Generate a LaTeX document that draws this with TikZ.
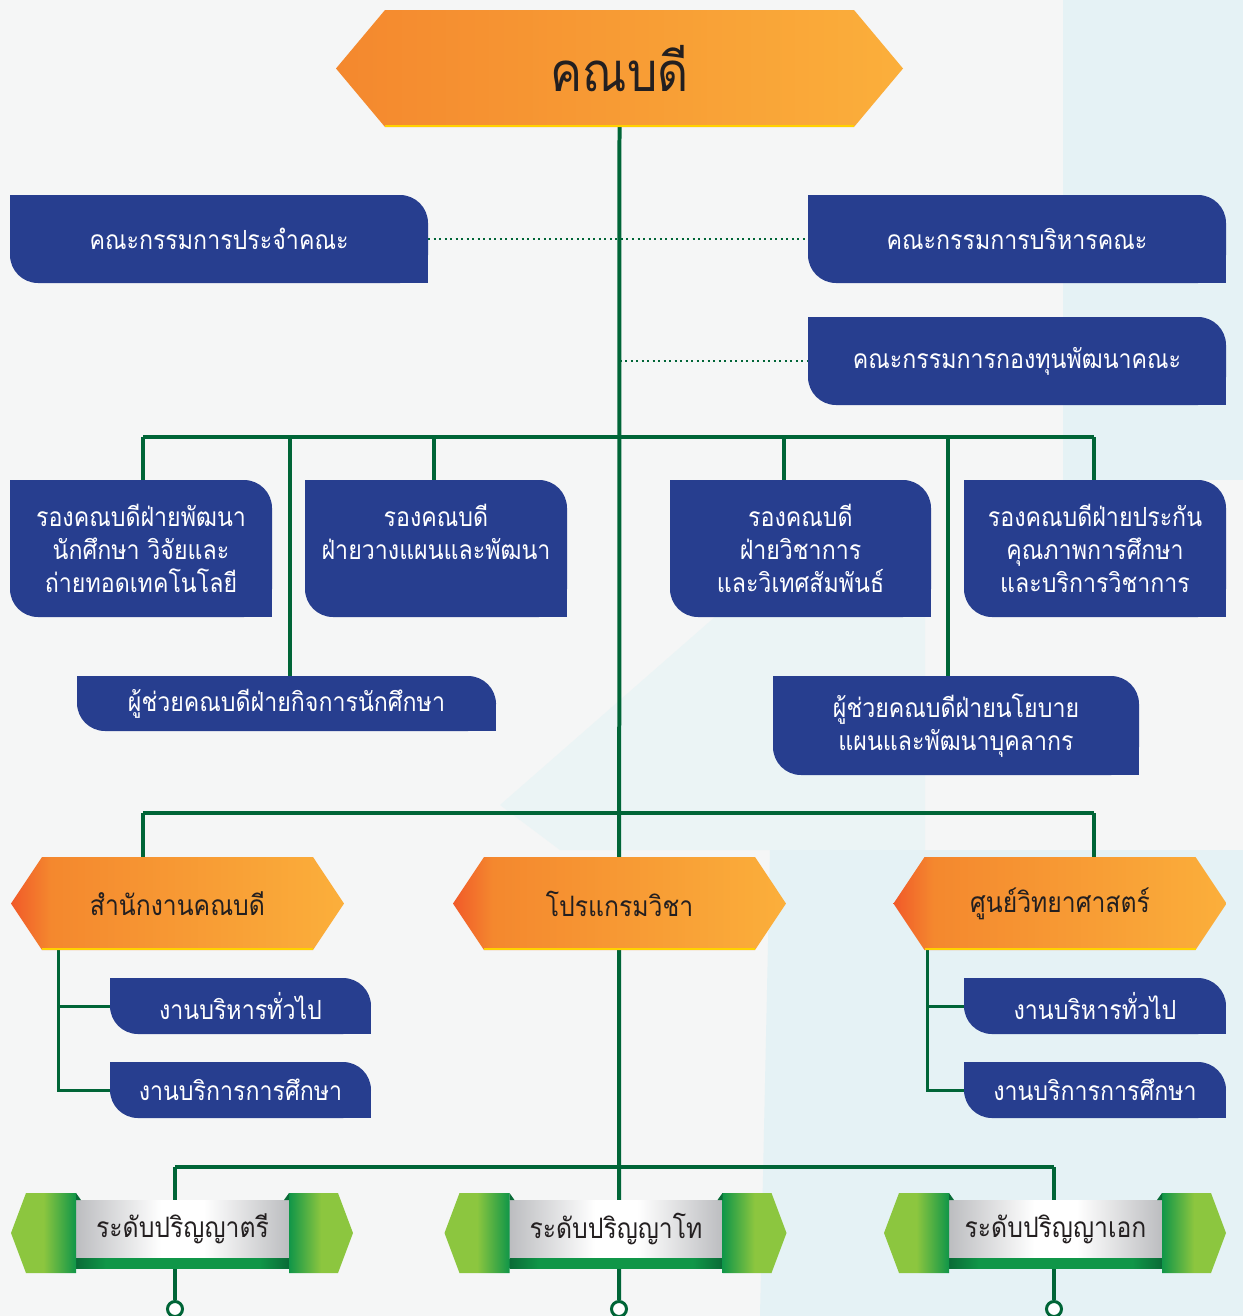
\documentclass[tikz,border=0pt]{standalone}
\usepackage{fontspec}
\newfontfamily\thai[Script=Thai, FakeStretch=0.88]{Loma}
\usetikzlibrary{positioning}
\definecolor{boxblue}{RGB}{39,62,143}
\definecolor{linegreen}{RGB}{0,101,55}
\definecolor{titlegray}{RGB}{35,31,32}
\definecolor{orR}{RGB}{241,90,41}
\definecolor{orA}{RGB}{244,136,46}
\definecolor{orB}{RGB}{251,175,59}
\definecolor{hexline}{RGB}{255,210,0}
\definecolor{wingL}{RGB}{140,198,63}
\definecolor{wingD}{RGB}{16,150,72}
\definecolor{stripD}{RGB}{10,107,55}
\definecolor{bandG}{RGB}{188,189,192}
\definecolor{bggray}{RGB}{245,246,246}
\definecolor{bgcyan}{RGB}{229,242,245}
\pgfdeclarehorizontalshading{tophexshade}{100bp}{color(0bp)=(orA); color(25bp)=(orA); color(75bp)=(orB); color(100bp)=(orB)}
\pgfdeclarehorizontalshading{hexshade}{100bp}{color(0bp)=(orR); color(25bp)=(orR); color(31bp)=(orA); color(75bp)=(orB); color(100bp)=(orB)}
\pgfdeclarehorizontalshading{leftwing}{100bp}{color(0bp)=(wingL); color(50bp)=(wingL); color(75bp)=(wingD); color(100bp)=(wingD)}
\pgfdeclarehorizontalshading{rightwing}{100bp}{color(0bp)=(wingD); color(25bp)=(wingD); color(50bp)=(wingL); color(100bp)=(wingL)}
\pgfdeclarehorizontalshading{bandshade}{100bp}{color(0bp)=(bandG); color(25bp)=(bandG); color(45bp)=(white); color(55bp)=(white); color(75bp)=(bandG); color(100bp)=(bandG)}
\pgfdeclarehorizontalshading{stripshade}{100bp}{color(0bp)=(stripD); color(25bp)=(stripD); color(32bp)=(wingD); color(68bp)=(wingD); color(75bp)=(stripD); color(100bp)=(stripD)}
\pgfdeclarelayer{bg}
\pgfdeclarelayer{lines}
\pgfsetlayers{bg,lines,main}
\newcommand\boxfont{\thai\fontsize{15}{18.7}\selectfont}
\newcommand\hexfont{\thai\fontsize{16}{19}\selectfont}
\tikzset{
  boxsize/.style 2 args={minimum width=#1*0.02cm, minimum height=#2*0.02cm},
  bluebox/.style={text=white, align=center, inner sep=0pt, outer sep=0pt, font=\boxfont,
    path picture={
      \fill[boxblue, rounded corners=0.56cm] (path picture bounding box.south west) rectangle (path picture bounding box.north east);
      \fill[boxblue] (path picture bounding box.north west) rectangle ++(0.6cm,-0.6cm);
      \fill[boxblue] (path picture bounding box.south east) rectangle ++(-0.6cm,0.6cm);
    }},
  hex cut/.store in=\hexcut, hex cut=0.62cm,
  hex shade/.store in=\hexshade, hex shade=hexshade,
  hexbox/.style={boxsize={333}{93}, inner sep=0pt, outer sep=0pt, text=titlegray, font=\hexfont,
    path picture={
      \shade[shading=\hexshade] (path picture bounding box.west)
        -- ([xshift=\hexcut]path picture bounding box.north west)
        -- ([xshift=-\hexcut]path picture bounding box.north east)
        -- (path picture bounding box.east)
        -- ([xshift=-\hexcut]path picture bounding box.south east)
        -- ([xshift=\hexcut]path picture bounding box.south west) -- cycle;
      \draw[hexline, line width=0.05cm] ([xshift=\hexcut,yshift=0.025cm]path picture bounding box.south west)
        -- ([xshift=-\hexcut,yshift=0.025cm]path picture bounding box.south east);
    }},
  tophex/.style={hexbox, boxsize={567}{117}, hex cut=0.98cm, hex shade=tophexshade,
    font=\thai\fontsize{31}{38}\selectfont},
  bandbox/.style={shade, shading=bandshade, boxsize={213}{58}, inner sep=0pt, text=titlegray, font=\hexfont},
  link/.style={linegreen, line width=0.08cm},
  sublink/.style={linegreen, line width=0.06cm},
  dotlink/.style={linegreen, line width=0.04cm, dotted},
  endring/.style={circle, draw=linegreen, line width=0.06cm, fill=white, minimum size=0.3cm, inner sep=0pt},
}
% ribbon: name, band centre x, text
\newcommand\ribbon[3]{
  \node[bandbox] (#1) at (#2,1229) {#3};
  \shade[shading=stripshade] (#2-106.5,1258) rectangle (#2+106.5,1268);
  \shade[shading=leftwing] (#2-171.5,1233) -- (#2-156.5,1193) -- (#2-106.5,1193)
    -- (#2-106.5,1273) -- (#2-156.5,1273) -- cycle;
  \shade[shading=rightwing] (#2+170.5,1233) -- (#2+155.5,1193) -- (#2+106.5,1193)
    -- (#2+106.5,1273) -- (#2+155.5,1273) -- cycle;
  \fill[stripD] (#2-106.5,1193) -- (#2-101.5,1200) -- (#2-106.5,1200) -- cycle;
  \fill[stripD] (#2+106.5,1193) -- (#2+101.5,1200) -- (#2+106.5,1200) -- cycle;
}
\begin{document}
\begin{tikzpicture}[x=0.02cm, y=-0.02cm]
  \useasboundingbox (0,0) rectangle (1243,1316);
  \begin{pgfonlayer}{bg}
    \fill[bggray] (0,0) rectangle (1243,1316);
    \fill[bgcyan] (1063,0) rectangle (1243,480);
    \fill[bgcyan!60!bggray] (500,805) -- (780,560) -- (925,560) -- (925,850) -- (560,850) -- cycle;
    \fill[bgcyan] (770,850) -- (1243,850) -- (1243,1316) -- (760,1316) -- cycle;
  \end{pgfonlayer}

  \node[tophex] (dean) at (619.5,68.5) {คณบดี};

  \node[bluebox, boxsize={418}{88}] (board) at (219,239) {คณะกรรมการประจำคณะ};
  \node[bluebox, boxsize={418}{88}] (exec) at (1017,239) {คณะกรรมการบริหารคณะ};
  \node[bluebox, boxsize={418}{88}] (fund) at (1017,361) {คณะกรรมการกองทุนพัฒนาคณะ};

  \node[bluebox, boxsize={262}{137}] (vp1) at (141,548.5) {รองคณบดีฝ่ายพัฒนา\\นักศึกษา วิจัยและ\\ถ่ายทอดเทคโนโลยี};
  \node[bluebox, boxsize={262}{137}] (vp2) at (436,548.5) {รองคณบดี\\ฝ่ายวางแผนและพัฒนา\\\mbox{}};
  \node[bluebox, boxsize={261}{137}] (vp3) at (800.5,548.5) {รองคณบดี\\ฝ่ายวิชาการ\\และวิเทศสัมพันธ์};
  \node[bluebox, boxsize={262}{137}] (vp4) at (1095,548.5) {รองคณบดีฝ่ายประกัน\\คุณภาพการศึกษา\\และบริการวิชาการ};

  \node[bluebox, boxsize={419}{55}] (ast1) at (286.5,703.5) {ผู้ช่วยคณบดีฝ่ายกิจการนักศึกษา};
  \node[bluebox, boxsize={366}{99}] (ast2) at (956,725.5) {ผู้ช่วยคณบดีฝ่ายนโยบาย\\แผนและพัฒนาบุคลากร};

  \node[hexbox] (office) at (177.5,903.5) {สำนักงานคณบดี};
  \node[hexbox] (prog) at (619.5,903.5) {โปรแกรมวิชา};
  \node[hexbox] (sci) at (1060,903.5) {ศูนย์วิทยาศาสตร์};

  \node[bluebox, boxsize={261}{56}] (off1) at (240.5,1006) {งานบริหารทั่วไป};
  \node[bluebox, boxsize={261}{56}] (off2) at (240.5,1090) {งานบริการการศึกษา};
  \node[bluebox, boxsize={262}{56}] (sci1) at (1095,1006) {งานบริหารทั่วไป};
  \node[bluebox, boxsize={262}{56}] (sci2) at (1095,1090) {งานบริการการศึกษา};

  \ribbon{bach}{182.5}{ระดับปริญญาตรี}
  \ribbon{mast}{616}{ระดับปริญญาโท}
  \ribbon{doct}{1055.5}{ระดับปริญญาเอก}

  \node[endring] (end1) at (175,1309) {};
  \node[endring] (end2) at (619,1309) {};
  \node[endring] (end3) at (1054,1309) {};

  \coordinate (j1) at (143,437);
  \coordinate (j2) at (290,437);
  \coordinate (j3) at (434,437);
  \coordinate (j4) at (784,437);
  \coordinate (j5) at (948,437);
  \coordinate (j6) at (1094,437);
  \coordinate (k1) at (143,813);
  \coordinate (k2) at (1094,813);
  \coordinate (m1) at (175,1167);
  \coordinate (m2) at (1054,1167);
  \coordinate (br1) at (58,950);
  \coordinate (br2) at (927,950);

  \begin{pgfonlayer}{lines}
    \draw[link] (dean.south) -- (end2.north);
    \draw[dotlink] (board.east) -- (exec.west);
    \draw[dotlink] (fund.west -| dean.south) -- (fund.west);
    \draw[link] (j1) -- (j6);
    \draw[link] (j1) -- (j1 |- vp1.north);
    \draw[link] (j2) -- (j2 |- ast1.north);
    \draw[link] (j3) -- (j3 |- vp2.north);
    \draw[link] (j4) -- (j4 |- vp3.north);
    \draw[link] (j5) -- (j5 |- ast2.north);
    \draw[link] (j6) -- (j6 |- vp4.north);
    \draw[link] (k1) -- (k2);
    \draw[link] (k1) -- (k1 |- office.north);
    \draw[link] (k2) -- (k2 |- sci.north);
    \draw[sublink] (br1) |- (off2.west);
    \draw[sublink] (br1 |- off1.west) -- (off1.west);
    \draw[sublink] (br2) |- (sci2.west);
    \draw[sublink] (br2 |- sci1.west) -- (sci1.west);
    \draw[link] (m1) -- (m2);
    \draw[link] (m1) -- (end1.north);
    \draw[link] (m2) -- (end3.north);
  \end{pgfonlayer}
\end{tikzpicture}
\end{document}
